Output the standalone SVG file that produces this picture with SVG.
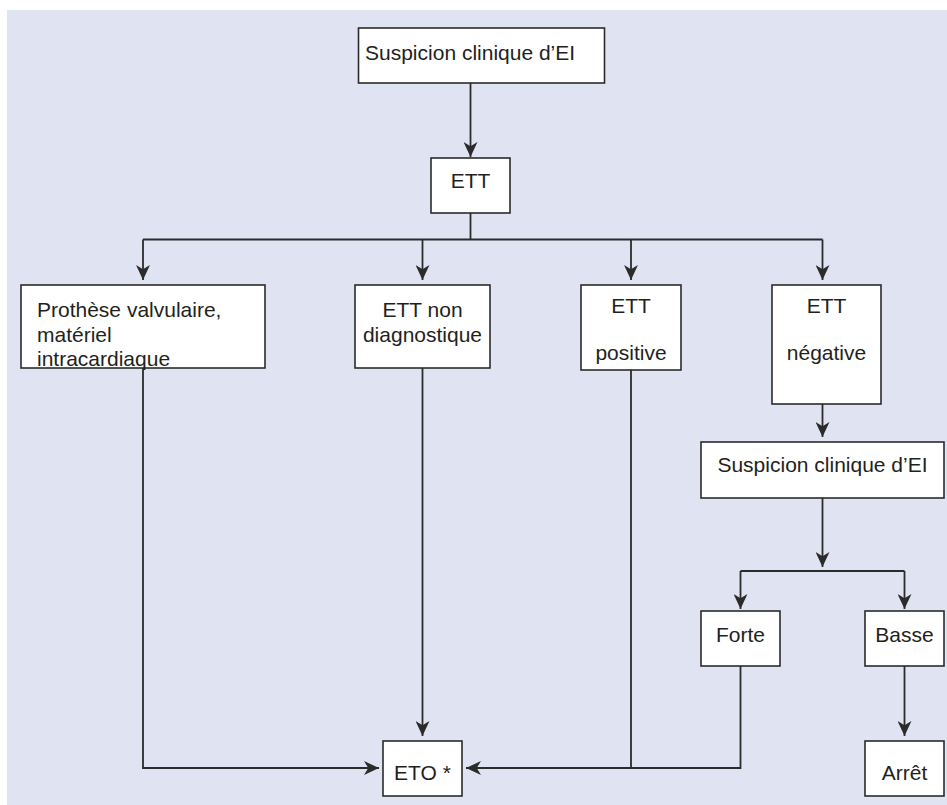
<svg xmlns="http://www.w3.org/2000/svg" width="947" height="805" viewBox="0 0 947 805">
<style>
.box{fill:#ffffff;stroke:#2b2b2b;stroke-width:1.6}
.t{font-family:"Liberation Sans",Arial,sans-serif;font-size:21px;fill:#231f20}
.c{text-anchor:middle}
.ln{fill:none;stroke:#2b2b2b;stroke-width:1.8}
.ar{marker-end:url(#ah)}
</style>
<defs>
<marker id="ah" viewBox="0 0 14 13" refX="14" refY="6.5" markerWidth="15" markerHeight="14" markerUnits="userSpaceOnUse" orient="auto">
<path d="M0,0 L14,6.5 L0,13 L4,6.5 Z" fill="#2b2b2b"/>
</marker>
</defs>
<rect x="7" y="10" width="940" height="795" fill="#e0e4f2"/>
<g id="connectors">
<path class="ln ar" d="M470.5,83 V157"/>
<path class="ln" d="M470.5,213 V239.5"/>
<path class="ln" d="M143,239.5 H822.5"/>
<path class="ln ar" d="M143,239.5 V280"/>
<path class="ln ar" d="M422.5,239.5 V280"/>
<path class="ln ar" d="M631,239.5 V280"/>
<path class="ln ar" d="M822.5,239.5 V280"/>
<path class="ln ar" d="M143,368 V768 H379"/>
<path class="ln ar" d="M422.5,368 V736"/>
<path class="ln" d="M631,370 V768"/>
<path class="ln ar" d="M740.5,666 V768 H466"/>
<path class="ln ar" d="M822.5,404 V437"/>
<path class="ln ar" d="M822.5,498 V567"/>
<path class="ln" d="M740.5,571 H904.5"/>
<path class="ln ar" d="M740.5,571 V609"/>
<path class="ln ar" d="M904.5,571 V609"/>
<path class="ln ar" d="M904.5,666 V736"/>
</g>
<g id="n1"><rect class="box" x="358.5" y="28" width="246" height="55"/><text class="t" x="365" y="60">Suspicion clinique d’EI</text></g>
<g id="n2"><rect class="box" x="431" y="158" width="79" height="55"/><text class="t c" x="470.5" y="188">ETT</text></g>
<g id="n3"><rect class="box" x="21" y="285" width="244" height="83"/><text class="t" x="37" y="317">Prothèse valvulaire,</text><text class="t" x="37" y="342">matériel</text><text class="t" x="37" y="366">intracardiaque</text></g>
<g id="n4"><rect class="box" x="355" y="285" width="135" height="83"/><text class="t c" x="422.5" y="317">ETT non</text><text class="t c" x="422.5" y="342">diagnostique</text></g>
<g id="n5"><rect class="box" x="581" y="285" width="100" height="85"/><text class="t c" x="631" y="313">ETT</text><text class="t c" x="631" y="360">positive</text></g>
<g id="n6"><rect class="box" x="772" y="285" width="109" height="119"/><text class="t c" x="826.5" y="313">ETT</text><text class="t c" x="826.5" y="360">négative</text></g>
<g id="n7"><rect class="box" x="701" y="442" width="243" height="56"/><text class="t c" x="822.5" y="472">Suspicion clinique d’EI</text></g>
<g id="n8"><rect class="box" x="701" y="611" width="79" height="55"/><text class="t c" x="740.5" y="642">Forte</text></g>
<g id="n9"><rect class="box" x="865" y="611" width="79" height="55"/><text class="t c" x="904.5" y="642">Basse</text></g>
<g id="n10"><rect class="box" x="383" y="741" width="79" height="55"/><text class="t c" x="422.5" y="780">ETO *</text></g>
<g id="n11"><rect class="box" x="865" y="741" width="79" height="55"/><text class="t c" x="904.5" y="780">Arrêt</text></g>
</svg>
